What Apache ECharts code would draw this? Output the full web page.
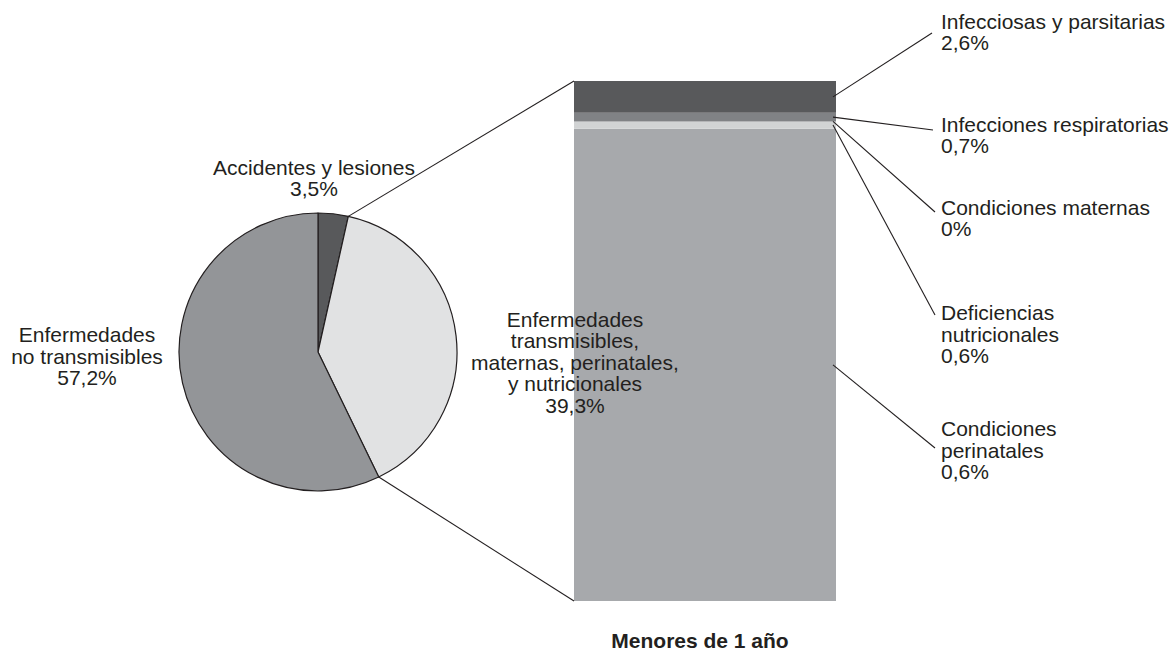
<!DOCTYPE html>
<html>
<head>
<meta charset="utf-8">
<script src="https://cdn.jsdelivr.net/npm/echarts@6/dist/echarts.min.js"></script>
<style>
html,body{margin:0;padding:0;background:#fff;}
#c{width:1176px;height:653px;}
</style>
</head>
<body>
<div id="c"></div>
<script>
// ---- data ----
const pieNames = ['Accidentes y lesiones', 'Enfermedades transmisibles, maternas, perinatales, y nutricionales', 'Enfermedades no transmisibles'];
const pieLabelText = ['Accidentes y lesiones', 'Enfermedades\ntransmisibles,\nmaternas, perinatales,\ny nutricionales', 'Enfermedades\nno transmisibles'];
const pieValues = [3.5, 39.3, 57.2];

const barCategory = ['Menores de 1 año'];
const barNames = ['Infecciosas y parsitarias', 'Infecciones respiratorias', 'Condiciones maternas', 'Deficiencias nutricionales', 'Condiciones perinatales'];
const barLabelText = ['Infecciosas y parsitarias', 'Infecciones respiratorias', 'Condiciones maternas', 'Deficiencias\nnutricionales', 'Condiciones\nperinatales'];
const barLabelValues = [2.6, 0.7, 0, 0.6, 0.6];
// segment heights as drawn in the picture (top to bottom)
const barSegments = [2.6, 0.7, 0, 0.6, 38.6];

// ---- styles / layout ----
const FONT = "'Liberation Sans', Arial, Helvetica, sans-serif";
const TXT = '#231f20';
const FS = 21, LH = 21.5;
const pieColors = ['#58595b', '#e1e2e3', '#939598'];
const barColors = ['#58595b', '#808285', '#9b9da0', '#d1d3d4', '#a7a9ac'];
const pieCenter = [318, 352], pieRadius = 139;
const pieLabelPos = [[314, 178], [575, 362], [87, 356]];
const rightLabelX = 941;
const rightLabelY = [32, 135, 218, 334, 450];
const leaderEnd = [[932, 33], [933, 130], [935, 212], [935, 315], [935, 448]];

const fmt = v => String(v).replace('.', ',') + '%';

const chart = echarts.init(document.getElementById('c'), null, {renderer: 'svg'});

const barSeries = [];
for (let i = barNames.length - 1; i >= 0; i--) {
  barSeries.push({
    type: 'bar', name: barNames[i], stack: 'total',
    data: [barSegments[i]], barWidth: '100%',
    itemStyle: {color: barColors[i]}, z: 2,
    silent: true
  });
}
const barTotal = barSegments.reduce((a, b) => a + b, 0);

chart.setOption({
  animation: false,
  backgroundColor: '#ffffff',
  textStyle: {fontFamily: FONT, color: TXT},
  grid: {left: 574, right: 340, top: 81, bottom: 52},
  xAxis: {
    type: 'category', data: barCategory,
    axisLine: {show: false}, axisTick: {show: false},
    axisLabel: {fontFamily: FONT, fontSize: FS, fontWeight: 'bold', color: TXT, margin: 29, lineHeight: 21, padding: [0, 10, 0, 0]}
  },
  yAxis: {type: 'value', min: 0, max: barTotal, show: false, splitLine: {show: false}},
  series: [
    {
      type: 'pie', z: 5, silent: true,
      center: pieCenter, radius: pieRadius,
      startAngle: 90, clockwise: true,
      itemStyle: {borderColor: '#231f20', borderWidth: 1.2},
      label: {
        show: true, position: 'outside', overflow: 'none', width: 300,
        fontFamily: FONT, fontSize: FS, lineHeight: LH, color: TXT, align: 'center',
        formatter: p => pieLabelText[p.dataIndex] + '\n' + fmt(p.value)
      },
      labelLine: {show: false},
      labelLayout: p => ({
        x: pieLabelPos[p.dataIndex][0], y: pieLabelPos[p.dataIndex][1],
        align: 'center', verticalAlign: 'middle'
      }),
      data: pieNames.map((n, i) => ({name: n, value: pieValues[i], itemStyle: {color: pieColors[i]}}))
    },
    ...barSeries
  ]
});

// annotation: connector lines and right-side labels
const rect = chart.getModel().getComponent('grid').coordinateSystem.getRect();
const pieTotal = pieValues.reduce((a, b) => a + b, 0);
const pt = frac => {
  const a = frac * 2 * Math.PI;
  return [pieCenter[0] + pieRadius * Math.sin(a), pieCenter[1] - pieRadius * Math.cos(a)];
};
const b1 = pt(pieValues[0] / pieTotal);
const b2 = pt((pieValues[0] + pieValues[1]) / pieTotal);
const lineStyle = {stroke: TXT, lineWidth: 1.1};
const graphics = [
  {type: 'line', shape: {x1: b1[0], y1: b1[1], x2: rect.x, y2: rect.y}, style: lineStyle, z: 10},
  {type: 'line', shape: {x1: b2[0], y1: b2[1], x2: rect.x, y2: rect.y + rect.height}, style: lineStyle, z: 10}
];
// cumulative from top
let cum = barTotal;
for (let i = 0; i < barNames.length; i++) {
  const mid = cum - barSegments[i] / 2;
  cum -= barSegments[i];
  const p = chart.convertToPixel({gridIndex: 0}, [0, mid]);
  graphics.push({
    type: 'line',
    shape: {x1: rect.x + rect.width - 3, y1: p[1], x2: leaderEnd[i][0], y2: leaderEnd[i][1]},
    style: lineStyle, z: 10
  });
  graphics.push({
    type: 'text', x: rightLabelX, y: rightLabelY[i], z: 10,
    style: {
      text: barLabelText[i] + '\n' + fmt(barLabelValues[i]),
      fontFamily: FONT, fontSize: FS, lineHeight: LH, fill: TXT,
      align: 'left', verticalAlign: 'middle'
    }
  });
}
chart.setOption({graphic: graphics});
</script>
</body>
</html>
